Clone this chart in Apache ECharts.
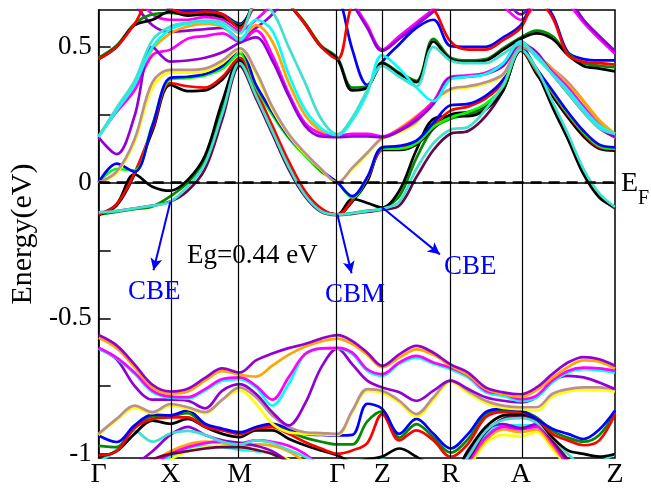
<!DOCTYPE html>
<html><head><meta charset="utf-8">
<script src="https://cdn.jsdelivr.net/npm/echarts@6/dist/echarts.min.js"></script>
<style>html,body{margin:0;padding:0;background:#fff}#c{width:651px;height:489px}</style>
</head><body><div id="c"></div>
<script>
// ---- k-path (high-symmetry points) ----
const kTicks  = [0, 0.139, 0.2732, 0.4624, 0.5492, 0.6815, 0.8176, 1.0];
const kLabels = ['Γ','X','M','Γ','Z','R','A','Z'];
const kDivs   = [4, 4, 6, 3, 4, 4, 6];
const yTickLabels = [-1, -0.5, 0, 0.5];
const yAllTicks   = [-1, -0.75, -0.5, -0.25, 0, 0.25, 0.5];

// ---- conduction bands (eV), sampled on the k grid: Γ-X | X-M | M-Γ | Γ-Z | Z-R | R-A | A-Z ----
const cbBlack1  = [-0.118,-0.08,0.03,-0.015,-0.03, 0.01,0.10,0.30,0.45, 0.33,0.20,0.065,-0.04,-0.10,-0.118, -0.06,-0.075,-0.092, -0.03,0.12,0.235,0.245, 0.245,0.27,0.34,0.495, 0.41,0.28,0.16,0.03,-0.055,-0.09];
const cbBlack1b = [-0.118,-0.085,0.03,0.19,0.36, 0.337,0.34,0.38,0.455, 0.335,0.205,0.072,-0.035,-0.098,-0.118, -0.07,0.005,0.12, 0.12,0.14,0.20,0.25, 0.26,0.285,0.35,0.49, 0.40,0.32,0.24,0.17,0.125,0.118];
const cbRed1    = [-0.118,-0.08,0.035,0.20,0.367, 0.355,0.35,0.39,0.46, 0.34,0.21,0.08,-0.03,-0.095,-0.118, -0.065,0.015,0.123, 0.13,0.15,0.21,0.265, 0.28,0.31,0.37,0.49, 0.41,0.33,0.25,0.18,0.13,0.123];
const cbGreen1  = [0.0,0.05,0.045,0.215,0.38, 0.385,0.395,0.42,0.475, 0.35,0.25,0.165,0.10,0.04,0.0, -0.055,0.018,0.125, 0.125,0.145,0.205,0.24, 0.26,0.29,0.355,0.495, 0.415,0.335,0.255,0.185,0.135,0.125];
const cbGreen2  = [-0.118,-0.108,-0.098,-0.088,-0.05, 0.0,0.085,0.28,0.445, 0.325,0.195,0.06,-0.042,-0.10,-0.118, -0.112,-0.104,-0.095, -0.05,0.09,0.20,0.235, 0.25,0.275,0.345,0.495, 0.415,0.29,0.17,0.04,-0.05,-0.09];
const cbBlue1   = [0.0,0.07,0.04,0.21,0.386, 0.39,0.40,0.43,0.49, 0.36,0.26,0.17,0.105,0.045,0.0, -0.05,0.02,0.13, 0.135,0.155,0.22,0.285, 0.29,0.32,0.38,0.50, 0.42,0.34,0.26,0.19,0.14,0.13];
const cbTurq1   = [-0.11,-0.105,-0.095,-0.085,-0.07, -0.015,0.07,0.255,0.44, 0.32,0.19,0.06,-0.045,-0.105,-0.118, -0.113,-0.105,-0.097, -0.07,0.05,0.145,0.195, 0.205,0.27,0.36,0.49, 0.42,0.30,0.18,0.05,-0.04,-0.09];
const cbMaroon  = [-0.11,-0.105,-0.095,-0.085,-0.07, -0.03,0.05,0.235,0.43, 0.31,0.18,0.05,-0.05,-0.108,-0.12, -0.115,-0.108,-0.10, -0.085,0.02,0.12,0.18, 0.19,0.245,0.34,0.485, 0.41,0.29,0.17,0.04,-0.05,-0.095];
const cbBrown1  = [0.0,0.04,0.16,0.37,0.415, 0.415,0.42,0.45,0.495, 0.41,0.28,0.18,0.11,0.05,0.0, 0.055,0.11,0.165, 0.19,0.225,0.30,0.345, 0.355,0.37,0.40,0.50, 0.47,0.42,0.37,0.30,0.22,0.17];
const cbYellow1 = [0.0,0.035,0.15,0.35,0.405, 0.405,0.41,0.44,0.49, 0.40,0.27,0.175,0.105,0.047,0.0, 0.05,0.105,0.16, 0.185,0.22,0.295,0.34, 0.35,0.365,0.395,0.505, 0.465,0.415,0.365,0.295,0.215,0.165];
const cbViolet1 = [0.167,0.105,0.245,0.50,0.446, 0.45,0.46,0.48,0.515, 0.535,0.45,0.32,0.21,0.17,0.167, 0.17,0.17,0.167, 0.19,0.23,0.29,0.386, 0.39,0.40,0.43,0.51, 0.48,0.40,0.33,0.26,0.20,0.167];
const cbMagenta1= [0.172,0.26,0.34,0.47,0.49, 0.53,0.54,0.55,0.52, 0.56,0.47,0.33,0.22,0.18,0.172, 0.18,0.18,0.17, 0.195,0.24,0.30,0.39, 0.395,0.405,0.44,0.52, 0.47,0.41,0.35,0.28,0.21,0.175];
const cbCyan1   = [0.168,0.265,0.36,0.50,0.565, 0.585,0.59,0.58,0.525, 0.60,0.56,0.40,0.27,0.20,0.175, 0.23,0.33,0.47, 0.42,0.35,0.30,0.38, 0.39,0.40,0.44,0.52, 0.46,0.40,0.34,0.27,0.21,0.18];
const cbOrange1 = [0.17,0.265,0.355,0.49,0.55, 0.575,0.585,0.575,0.53, 0.58,0.52,0.37,0.25,0.19,0.17, 0.175,0.175,0.168, 0.20,0.245,0.30,0.385, 0.39,0.405,0.44,0.52, 0.47,0.42,0.36,0.30,0.23,0.18];
const cbTurq2   = [0.17,0.275,0.375,0.525,0.575, 0.59,0.597,0.59,0.55, 0.66,0.63,0.50,0.37,0.235,0.178, 0.24,0.34,0.43, 0.39,0.355,0.50,0.45, 0.44,0.44,0.475,0.51, 0.47,0.40,0.33,0.26,0.20,0.18];
const cbBlack2  = [0.455,0.50,0.58,0.60,0.63, 0.615,0.62,0.61,0.575, 0.68,0.74,0.66,0.585,0.50,0.455, 0.34,0.35,0.44, 0.40,0.37,0.52,0.455, 0.445,0.45,0.49,0.53, 0.55,0.53,0.47,0.43,0.42,0.41];
const cbRed2    = [0.455,0.50,0.585,0.68,0.64, 0.625,0.63,0.62,0.57, 0.66,0.72,0.66,0.585,0.50,0.455, 0.66,0.70,0.75, 0.72,0.68,0.64,0.52, 0.49,0.49,0.525,0.57, 0.67,0.61,0.47,0.445,0.44,0.435];
const cbGreen3  = [0.46,0.505,0.585,0.62,0.625, 0.62,0.625,0.615,0.58, 0.67,0.73,0.66,0.59,0.505,0.46, 0.35,0.355,0.442, 0.405,0.375,0.53,0.46, 0.45,0.455,0.495,0.535, 0.56,0.54,0.475,0.44,0.43,0.425];
const cbBlue2   = [0.80,0.80,0.75,0.68,0.64, 0.63,0.635,0.62,0.585, 0.67,0.75,0.80,0.80,0.76,0.70, 0.49,0.36,0.445, 0.51,0.57,0.60,0.503, 0.50,0.50,0.535,0.58, 0.68,0.62,0.48,0.455,0.45,0.45];
const cbViolet2 = [0.80,0.75,0.66,0.58,0.555, 0.56,0.565,0.57,0.53, 0.57,0.62,0.70,0.78,0.80,0.75, 0.66,0.57,0.485, 0.53,0.58,0.63,0.68, 0.72,0.72,0.68,0.62, 0.68,0.72,0.68,0.60,0.54,0.485];
const cbMagenta2= [0.82,0.78,0.70,0.62,0.60, 0.60,0.61,0.60,0.56, 0.60,0.66,0.74,0.80,0.80,0.78, 0.67,0.58,0.49, 0.54,0.59,0.64,0.70, 0.72,0.70,0.65,0.60, 0.66,0.70,0.66,0.59,0.53,0.475];

// ---- valence bands (eV) ----
const vViolet1 = [-0.562,-0.60,-0.67,-0.745,-0.77, -0.76,-0.72,-0.685,-0.70, -0.655,-0.63,-0.61,-0.595,-0.575,-0.562, -0.584,-0.627,-0.675, -0.633,-0.602,-0.627,-0.67, -0.70,-0.755,-0.773,-0.78, -0.755,-0.706,-0.663,-0.643,-0.651,-0.675];
const vOrange1 = [-0.572,-0.61,-0.68,-0.755,-0.778, -0.77,-0.73,-0.695,-0.708, -0.715,-0.675,-0.635,-0.605,-0.585,-0.575, -0.595,-0.635,-0.68, -0.645,-0.615,-0.635,-0.675, -0.71,-0.76,-0.78,-0.79, -0.765,-0.72,-0.68,-0.655,-0.66,-0.685];
const vMagenta1= [-0.609,-0.645,-0.70,-0.767,-0.789, -0.791,-0.761,-0.724,-0.718, -0.749,-0.80,-0.718,-0.633,-0.611,-0.609, -0.627,-0.688,-0.706, -0.663,-0.639,-0.663,-0.682, -0.712,-0.767,-0.779,-0.798, -0.785,-0.73,-0.694,-0.682,-0.685,-0.694];
const vCyan1   = [-0.612,-0.648,-0.705,-0.772,-0.793, -0.796,-0.766,-0.73,-0.724, -0.755,-0.822,-0.743,-0.633,-0.612,-0.612, -0.632,-0.694,-0.712, -0.668,-0.645,-0.668,-0.688, -0.718,-0.773,-0.786,-0.805, -0.792,-0.737,-0.70,-0.688,-0.692,-0.70];
const vViolet2 = [-0.612,-0.651,-0.749,-0.80,-0.80, -0.804,-0.832,-0.767,-0.743, -0.779,-0.846,-0.895,-0.816,-0.682,-0.612, -0.67,-0.73,-0.755, -0.773,-0.804,-0.767,-0.73, -0.761,-0.791,-0.804,-0.81, -0.791,-0.73,-0.712,-0.718,-0.737,-0.761];
const vBrown1  = [-0.926,-0.871,-0.822,-0.846,-0.816, -0.828,-0.846,-0.80,-0.755, -0.791,-0.858,-0.901,-0.92,-0.923,-0.926, -0.84,-0.761,-0.767, -0.804,-0.853,-0.791,-0.73, -0.767,-0.804,-0.822,-0.828, -0.828,-0.779,-0.761,-0.755,-0.755,-0.761];
const vYellow1 = [-0.93,-0.876,-0.83,-0.85,-0.822, -0.834,-0.85,-0.80,-0.766, -0.816,-0.889,-0.92,-0.925,-0.928,-0.93, -0.845,-0.768,-0.775, -0.81,-0.862,-0.80,-0.735, -0.775,-0.812,-0.83,-0.835, -0.84,-0.79,-0.77,-0.765,-0.765,-0.77];
const vBlue1   = [-0.932,-0.956,-0.895,-0.855,-0.858, -0.84,-0.889,-0.907,-0.92, -0.901,-0.889,-0.907,-0.926,-0.93,-0.932, -0.93,-0.815,-0.834, -0.926,-0.871,-0.926,-0.98, -0.926,-0.846,-0.834,-0.84, -0.871,-0.907,-0.926,-0.945,-0.91,-0.84];
const vRed1    = [-1.005,-0.99,-0.905,-0.871,-0.865, -0.865,-0.901,-0.913,-0.926, -0.907,-0.901,-0.926,-0.956,-0.98,-0.999, -0.987,-0.96,-0.853, -0.95,-0.913,-0.95,-1.011, -0.962,-0.865,-0.846,-0.846, -0.871,-0.926,-0.95,-0.968,-0.95,-0.853];
const vGreen1  = [-0.97,-0.975,-0.90,-0.862,-0.86, -0.85,-0.895,-0.91,-0.923, -0.904,-0.895,-0.916,-0.94,-0.955,-0.965, -0.965,-0.88,-0.843, -0.94,-0.89,-0.94,-0.995, -0.945,-0.855,-0.84,-0.843, -0.865,-0.915,-0.94,-0.955,-0.93,-0.848];
const vBlack1  = [-1.01,-0.99,-0.926,-0.877,-0.889, -0.871,-0.901,-0.926,-0.938, -0.913,-0.913,-0.944,-0.968,-0.987,-1.005, -1.03,-1.02,-1.01, -0.98,-1.01,-1.05,-1.08, -0.987,-0.901,-0.858,-0.853, -0.871,-0.938,-0.987,-1.0,-1.01,-1.0];
const vTurq1   = [-1.03,-0.985,-0.915,-0.955,-0.925, -0.915,-0.93,-0.955,-0.965, -0.95,-0.96,-0.985,-1.01,-1.04,-1.06, -1.08,-1.05,-1.02, -1.05,-1.08,-1.10,-1.10, -1.01,-0.915,-0.875,-0.868, -0.885,-0.94,-1.0,-1.04,-1.03,-1.0];
const vMaroon1 = [-1.10,-1.08,-1.05,-1.02,-1.0, -0.99,-0.98,-0.975,-0.975, -0.985,-1.0,-1.03,-1.06,-1.08,-1.10, -1.10,-1.10,-1.10, -1.10,-1.10,-1.10,-1.10, -1.02,-0.92,-0.87,-0.86, -0.88,-0.95,-1.02,-1.08,-1.10,-1.10];
const vViolet3 = [-1.12,-1.08,-1.04,-0.99,-0.93, -0.90,-0.93,-0.95,-0.96, -0.97,-0.99,-1.03,-1.08,-1.10,-1.12, -1.12,-1.10,-1.08, -1.10,-1.10,-1.10,-1.10, -1.0,-0.91,-0.89,-0.905, -0.89,-0.95,-1.03,-1.10,-1.10,-1.10];
const vMagenta2= [-1.15,-1.12,-1.08,-1.04,-1.0, -0.975,-0.96,-0.955,-0.96, -0.95,-0.955,-0.97,-1.0,-1.05,-1.10, -1.10,-1.10,-1.10, -1.10,-1.10,-1.10,-1.10, -1.03,-0.94,-0.90,-0.91, -0.90,-0.96,-1.04,-1.10,-1.10,-1.10];
const vOrange2 = [-1.15,-1.12,-1.08,-1.03,-0.99, -0.965,-0.955,-0.96,-0.97, -0.965,-0.97,-0.99,-1.03,-1.08,-1.12, -1.12,-1.12,-1.12, -1.12,-1.12,-1.12,-1.12, -1.04,-0.95,-0.91,-0.92, -0.91,-0.97,-1.04,-1.10,-1.12,-1.12];
const vYellow2 = [-1.15,-1.12,-1.10,-1.06,-1.02, -0.99,-0.975,-0.97,-0.975, -0.985,-1.0,-1.02,-1.06,-1.10,-1.12, -1.12,-1.12,-1.12, -1.12,-1.12,-1.12,-1.12, -1.05,-0.96,-0.93,-0.935, -0.92,-0.98,-1.05,-1.10,-1.12,-1.12];
const vCyan2   = [-1.15,-1.12,-1.09,-1.05,-1.01, -0.985,-0.97,-0.975,-0.985, -0.99,-1.0,-1.03,-1.07,-1.10,-1.12, -1.12,-1.12,-1.12, -1.12,-1.12,-1.12,-1.12, -1.03,-0.93,-0.895,-0.895, -0.895,-0.955,-1.03,-1.10,-1.12,-1.12];

// ---- annotation arrows: tip positions (k, E) ----
const arrowTips = [[0.1062, -0.323], [0.4898, -0.334], [0.6608, -0.2645]];

// ---- colours (xmgrace palette) ----
const C = {black:'#000000', red:'#ff0000', green:'#00ff00', dkgreen:'#008b00', blue:'#0000ff',
  yellow:'#ffff00', brown:'#bc8f8f', violet:'#9400d3', cyan:'#00ffff', magenta:'#ff00ff',
  orange:'#ffa500', maroon:'#670748', turq:'#40e0d0'};

const bandList = [
  [vCyan2,C.cyan],[vYellow2,C.yellow],[vOrange2,C.orange],[vMagenta2,C.magenta],[vViolet3,C.violet],
  [vMaroon1,C.maroon],[vTurq1,C.turq],[vBlack1,C.black],[vGreen1,C.dkgreen],[vRed1,C.red],[vBlue1,C.blue],
  [vYellow1,C.yellow],[vBrown1,C.brown],[vViolet2,C.violet],[vCyan1,C.cyan],[vMagenta1,C.magenta],
  [vOrange1,C.orange],[vViolet1,C.violet],
  [cbMagenta2,C.magenta],[cbViolet2,C.violet],[cbBlue2,C.blue],[cbGreen3,C.dkgreen],[cbBlack2,C.black],[cbRed2,C.red],
  [cbMaroon,C.maroon],[cbGreen2,C.dkgreen],[cbBlack1,C.black],[cbBlack1b,C.black],[cbRed1,C.red],
  [cbGreen1,C.green],[cbBlue1,C.blue],[cbYellow1,C.yellow],[cbBrown1,C.brown],[cbOrange1,C.orange],
  [cbMagenta1,C.magenta],[cbViolet1,C.violet],[cbCyan1,C.cyan],[cbTurq2,C.turq],[cbTurq1,C.turq]
];

const kGrid = [];
for (let s = 0; s < kDivs.length; s++) {
  for (let j = (s === 0 ? 0 : 1); j <= kDivs[s]; j++) {
    kGrid.push(kTicks[s] + (kTicks[s + 1] - kTicks[s]) * j / kDivs[s]);
  }
}

const FONT = 'Liberation Serif';
const series = bandList.map(([vals, color]) => ({
  type: 'line', silent: true, symbol: 'none', smooth: 0.35, z: 3,
  data: kGrid.map((k, i) => [k, vals[i]]),
  lineStyle: {color: color, width: 2.7}
}));

// vertical high-symmetry lines
series.unshift({
  type: 'line', data: [], z: 2, silent: true,
  markLine: {silent: true, symbol: 'none', label: {show: false}, animation: false,
    lineStyle: {color: '#000', width: 1.2, type: 'solid'},
    data: kTicks.slice(1, -1).map(k => ({xAxis: k}))}
});
// Fermi level and arrows
const arrowStarts = [[kTicks[1], cbTurq1[4]], [kTicks[3], cbRed1[14]], [kTicks[4], cbBlack1[17]]];
series.push({
  type: 'line', data: [], z: 10, silent: true,
  markLine: {silent: true, symbol: 'none', label: {show: false}, animation: false,
    lineStyle: {color: '#000', width: 2.5, type: [11, 7]},
    data: [{yAxis: 0}]}
});
series.push({
  type: 'line', data: [], z: 11, silent: true,
  markLine: {silent: true, label: {show: false}, animation: false, symbolSize: [9, 12],
    lineStyle: {color: '#0000ff', width: 2, type: 'solid'},
    data: arrowStarts.map((s, i) => [{coord: s, symbol: 'none'}, {coord: arrowTips[i], symbol: 'arrow'}])}
});

const chart = echarts.init(document.getElementById('c'));
chart.setOption({
  animation: false,
  backgroundColor: '#fff',
  textStyle: {fontFamily: FONT},
  grid: {left: 97, right: 36, top: 10, bottom: 28, show: true, borderColor: '#000', borderWidth: 1.5},
  xAxis: {
    type: 'value', min: 0, max: 1,
    axisLine: {show: true, lineStyle: {color: '#000', width: 1.5}},
    axisTick: {show: false},
    splitLine: {show: false},
    axisLabel: {
      customValues: kTicks, margin: 3, color: '#000', fontFamily: FONT, fontSize: 28,
      formatter: v => {
        let best = 0;
        for (let i = 1; i < kTicks.length; i++) if (Math.abs(kTicks[i] - v) < Math.abs(kTicks[best] - v)) best = i;
        return kLabels[best];
      }
    }
  },
  yAxis: {
    type: 'value', min: -1.015, max: 0.636,
    name: 'Energy(eV)', nameLocation: 'middle', nameGap: 50,
    nameTextStyle: {color: '#000', fontFamily: FONT, fontSize: 30},
    axisLine: {show: true, lineStyle: {color: '#000', width: 1.5}},
    axisTick: {show: true, inside: true, length: 12, customValues: yAllTicks, lineStyle: {color: '#000', width: 1.5}},
    splitLine: {show: false},
    axisLabel: {
      customValues: yTickLabels, margin: 7, color: '#000', fontFamily: FONT, fontSize: 27,
      formatter: v => (Math.abs(v) < 1e-9 ? '0' : String(v))
    }
  },
  graphic: [
    {type: 'text', x: 621, y: 184, z: 20, style: {text: 'E', fill: '#000', fontFamily: FONT, fontSize: 28, align: 'left', verticalAlign: 'middle'}},
    {type: 'text', x: 638, y: 199, z: 20, style: {text: 'F', fill: '#000', fontFamily: FONT, fontSize: 20, align: 'left', verticalAlign: 'middle'}},
    {type: 'text', x: 187, y: 256, z: 20, style: {text: 'Eg=0.44 eV', fill: '#000', fontFamily: FONT, fontSize: 27, align: 'left', verticalAlign: 'middle'}},
    {type: 'text', x: 128, y: 292, z: 20, style: {text: 'CBE', fill: '#0000ff', fontFamily: FONT, fontSize: 27, align: 'left', verticalAlign: 'middle'}},
    {type: 'text', x: 325, y: 295, z: 20, style: {text: 'CBM', fill: '#0000ff', fontFamily: FONT, fontSize: 27, align: 'left', verticalAlign: 'middle'}},
    {type: 'text', x: 444, y: 267, z: 20, style: {text: 'CBE', fill: '#0000ff', fontFamily: FONT, fontSize: 27, align: 'left', verticalAlign: 'middle'}}
  ],
  series: series
});
</script>
</body></html>
